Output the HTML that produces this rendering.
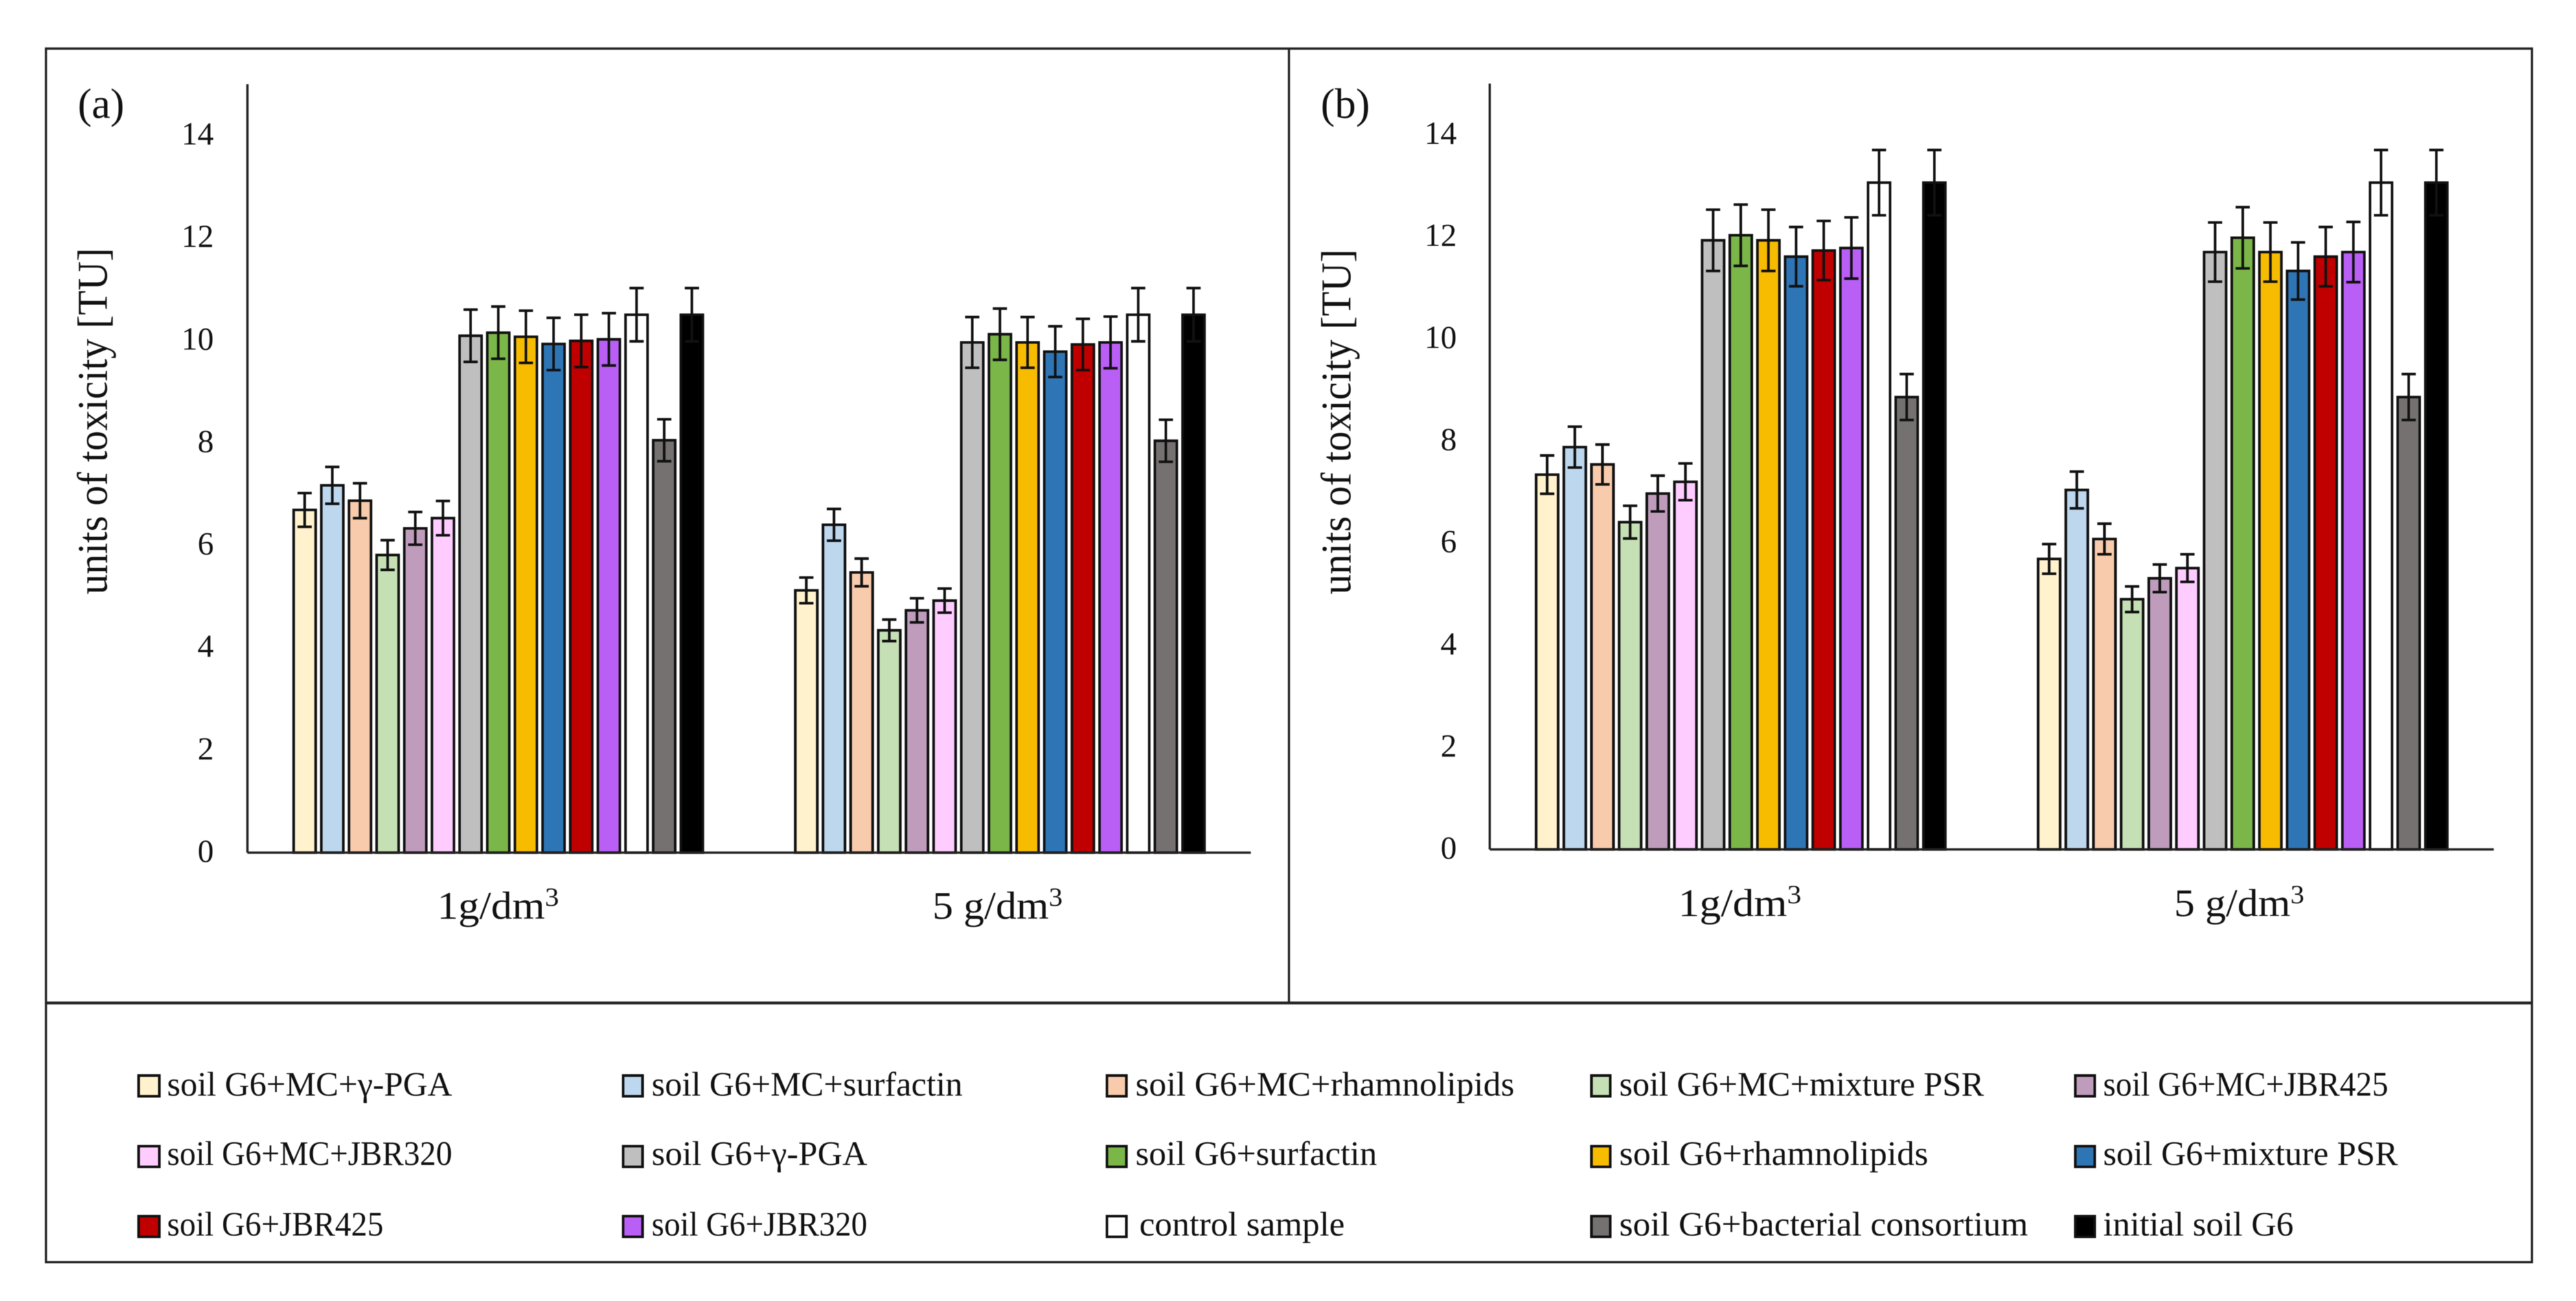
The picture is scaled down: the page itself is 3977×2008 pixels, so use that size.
<!DOCTYPE html>
<html lang="en">
<head>
<meta charset="utf-8">
<title>Units of toxicity chart</title>
<style>
html,body{margin:0;padding:0;background:#fff;width:3977px;height:2008px;overflow:hidden}
svg{display:block;filter:blur(0.6px)}
text{font-family:"Liberation Serif",serif;fill:#111}
.leg{font-size:53px}
.tick{font-size:50px}
.cat{font-size:60px}
</style>
</head>
<body>
<svg id="chart" xmlns="http://www.w3.org/2000/svg" width="3977" height="2008" viewBox="0 0 3977 2008">
  <rect x="0" y="0" width="3977" height="2008" fill="#fff"/>
  <rect x="71" y="75" width="3838" height="1873" fill="none" stroke="#222" stroke-width="3.5"/>
  <line x1="1990" y1="75" x2="1990" y2="1548" stroke="#222" stroke-width="3.5"/>
  <line x1="71" y1="1548" x2="3909" y2="1548" stroke="#222" stroke-width="4.5"/>

  <g id="panel-a"></g>
  <g id="panel-b"></g>

  <text x="120" y="182" font-size="66" textLength="72" lengthAdjust="spacingAndGlyphs">(a)</text>
  <text x="2039" y="182" font-size="66" textLength="76" lengthAdjust="spacingAndGlyphs">(b)</text>
  <text transform="translate(165,650) rotate(-90)" text-anchor="middle" font-size="66" textLength="535" lengthAdjust="spacingAndGlyphs">units of toxicity [TU]</text>
  <text transform="translate(2085,651) rotate(-90)" text-anchor="middle" font-size="66" textLength="533" lengthAdjust="spacingAndGlyphs">units of toxicity [TU]</text>

  <g>
    <g><rect x="214" y="1660" width="32" height="32" fill="#fff2cc" stroke="#111" stroke-width="4"/><text class="leg" x="258" y="1691" textLength="440" lengthAdjust="spacingAndGlyphs">soil G6+MC+γ-PGA</text></g>
    <g><rect x="962" y="1660" width="30" height="32" fill="#bdd7ee" stroke="#111" stroke-width="4"/><text class="leg" x="1006" y="1691" textLength="480" lengthAdjust="spacingAndGlyphs">soil G6+MC+surfactin</text></g>
    <g><rect x="1709" y="1660" width="30" height="32" fill="#f8cbad" stroke="#111" stroke-width="4"/><text class="leg" x="1753" y="1691" textLength="585" lengthAdjust="spacingAndGlyphs">soil G6+MC+rhamnolipids</text></g>
    <g><rect x="2457" y="1660" width="29" height="32" fill="#c5e0b4" stroke="#111" stroke-width="4"/><text class="leg" x="2500" y="1691" textLength="563" lengthAdjust="spacingAndGlyphs">soil G6+MC+mixture PSR</text></g>
    <g><rect x="3204" y="1660" width="30" height="32" fill="#bf9cbc" stroke="#111" stroke-width="4"/><text class="leg" x="3247" y="1691" textLength="440" lengthAdjust="spacingAndGlyphs">soil G6+MC+JBR425</text></g>

    <g><rect x="214" y="1769" width="32" height="32" fill="#ffccff" stroke="#111" stroke-width="4"/><text class="leg" x="258" y="1798" textLength="440" lengthAdjust="spacingAndGlyphs">soil G6+MC+JBR320</text></g>
    <g><rect x="962" y="1769" width="30" height="32" fill="#bfbfbf" stroke="#111" stroke-width="4"/><text class="leg" x="1006" y="1798" textLength="333" lengthAdjust="spacingAndGlyphs">soil G6+γ-PGA</text></g>
    <g><rect x="1709" y="1769" width="30" height="32" fill="#7ab648" stroke="#111" stroke-width="4"/><text class="leg" x="1753" y="1798" textLength="373" lengthAdjust="spacingAndGlyphs">soil G6+surfactin</text></g>
    <g><rect x="2457" y="1769" width="29" height="32" fill="#f7bb00" stroke="#111" stroke-width="4"/><text class="leg" x="2500" y="1798" textLength="477" lengthAdjust="spacingAndGlyphs">soil G6+rhamnolipids</text></g>
    <g><rect x="3204" y="1769" width="30" height="32" fill="#2e75b6" stroke="#111" stroke-width="4"/><text class="leg" x="3247" y="1798" textLength="455" lengthAdjust="spacingAndGlyphs">soil G6+mixture PSR</text></g>

    <g><rect x="214" y="1877" width="32" height="32" fill="#c00000" stroke="#111" stroke-width="4"/><text class="leg" x="258" y="1907" textLength="334" lengthAdjust="spacingAndGlyphs">soil G6+JBR425</text></g>
    <g><rect x="962" y="1877" width="30" height="32" fill="#b95ff5" stroke="#111" stroke-width="4"/><text class="leg" x="1006" y="1907" textLength="333" lengthAdjust="spacingAndGlyphs">soil G6+JBR320</text></g>
    <g><rect x="1709" y="1877" width="30" height="32" fill="#ffffff" stroke="#111" stroke-width="4"/><text class="leg" x="1759" y="1907" textLength="317" lengthAdjust="spacingAndGlyphs">control sample</text></g>
    <g><rect x="2457" y="1877" width="29" height="32" fill="#767171" stroke="#111" stroke-width="4"/><text class="leg" x="2500" y="1907" textLength="631" lengthAdjust="spacingAndGlyphs">soil G6+bacterial consortium</text></g>
    <g><rect x="3204" y="1877" width="30" height="32" fill="#000000" stroke="#111" stroke-width="4"/><text class="leg" x="3247" y="1907" textLength="294" lengthAdjust="spacingAndGlyphs">initial soil G6</text></g>
  </g>
</svg>
<script>
var yTicks = [0, 2, 4, 6, 8, 10, 12, 14];
var yMax = 15;
var seriesNames = ["mc-pga","mc-surfactin","mc-rhamnolipids","mc-mixture-psr","mc-jbr425","mc-jbr320","pga","surfactin","rhamnolipids","mixture-psr","jbr425","jbr320","control-sample","bacterial-consortium","initial-soil"];
var seriesColors = ["#fff2cc","#bdd7ee","#f8cbad","#c5e0b4","#bf9cbc","#ffccff","#bfbfbf","#7ab648","#f7bb00","#2e75b6","#c00000","#b95ff5","#ffffff","#767171","#000000"];

var panelA1gValues = [6.69,7.17,6.87,5.81,6.33,6.53,10.09,10.15,10.07,9.93,9.99,10.02,10.5,8.05,10.5];
var panelA1gErrors = [0.33,0.36,0.34,0.29,0.32,0.335,0.51,0.51,0.51,0.51,0.51,0.51,0.52,0.41,0.52];
var panelA5gValues = [5.12,6.40,5.47,4.34,4.73,4.92,9.96,10.12,9.96,9.78,9.92,9.96,10.5,8.04,10.5];
var panelA5gErrors = [0.25,0.31,0.27,0.21,0.235,0.235,0.495,0.5,0.495,0.495,0.5,0.505,0.52,0.41,0.52];
var panelB1gValues = [7.34,7.88,7.54,6.41,6.97,7.2,11.93,12.03,11.93,11.61,11.73,11.78,13.06,8.86,13.06];
var panelB1gErrors = [0.375,0.4,0.39,0.32,0.35,0.36,0.6,0.6,0.6,0.58,0.58,0.6,0.64,0.45,0.64];
var panelB5gValues = [5.69,7.04,6.08,4.90,5.31,5.51,11.70,11.98,11.70,11.33,11.61,11.70,13.06,8.86,13.06];
var panelB5gErrors = [0.29,0.36,0.30,0.25,0.27,0.27,0.58,0.6,0.58,0.56,0.58,0.59,0.64,0.45,0.64];

var SVGNS = "http://www.w3.org/2000/svg";
function mk(parent, tag, attrs) {
  var el = document.createElementNS(SVGNS, tag);
  for (var k in attrs) el.setAttribute(k, attrs[k]);
  parent.appendChild(el);
  return el;
}

function drawPanel(root, frame, groups) {
  function yScale(v) { return frame.base - (v / yMax) * (frame.base - frame.top); }
  var band = (frame.right - frame.left) / groups.length;
  var step = 42.7;
  var barW = 34;
  function xScale(g, s) { return frame.left + band * (g + 0.5) + (s - (seriesNames.length - 1) / 2) * step; }

  yTicks.forEach(function (t) {
    var lab = mk(root, "text", {x: frame.labelX, y: yScale(t) + 14, "text-anchor": "end", "class": "tick"});
    
    
    lab.textContent = String(t);
  });

  groups.forEach(function (grp, g) {
    grp.values.forEach(function (v, s) {
      var cx = xScale(g, s);
      var y = yScale(v);
      var bar = mk(root, "rect", {x: cx - barW / 2, y: y, width: barW, height: frame.base - y, fill: seriesColors[s], stroke: "#111", "stroke-width": 4});
      
      
    });
    grp.values.forEach(function (v, s) {
      var cx = xScale(g, s);
      var hi = yScale(v + grp.errors[s]);
      var lo = yScale(v - grp.errors[s]);
      var eb = mk(root, "path", {d: "M" + cx + " " + hi + "V" + lo + "M" + (cx - 11) + " " + hi + "H" + (cx + 11) + "M" + (cx - 11) + " " + lo + "H" + (cx + 11), fill: "none", stroke: "#111", "stroke-width": 4});
      
      
    });
    var cat = mk(root, "text", {x: grp.labelCx, y: frame.catY, "text-anchor": "middle", "class": "cat", textLength: grp.labelLen, lengthAdjust: "spacingAndGlyphs"});
    
    
    cat.appendChild(document.createTextNode(grp.name));
    var sup = mk(cat, "tspan", {dy: -20, "font-size": 40});
    sup.textContent = "3";
  });

  var ya = mk(root, "line", {x1: frame.left, y1: frame.top, x2: frame.left, y2: frame.base, stroke: "#222", "stroke-width": 3.5});
  
  
  var xa = mk(root, "line", {x1: frame.left, y1: frame.base, x2: frame.right, y2: frame.base, stroke: "#222", "stroke-width": 3.5});
  
  
}

drawPanel(document.getElementById("panel-a"),
  {left: 382, right: 1931, top: 130, base: 1316, labelX: 330, catY: 1418},
  [{name: "1g/dm", values: panelA1gValues, errors: panelA1gErrors, labelCx: 769, labelLen: 188},
   {name: "5 g/dm", values: panelA5gValues, errors: panelA5gErrors, labelCx: 1540, labelLen: 201}]);
drawPanel(document.getElementById("panel-b"),
  {left: 2300, right: 3850, top: 129, base: 1311, labelX: 2249, catY: 1414},
  [{name: "1g/dm", values: panelB1gValues, errors: panelB1gErrors, labelCx: 2686, labelLen: 190},
   {name: "5 g/dm", values: panelB5gValues, errors: panelB5gErrors, labelCx: 3457, labelLen: 201}]);
</script>
</body>
</html>
